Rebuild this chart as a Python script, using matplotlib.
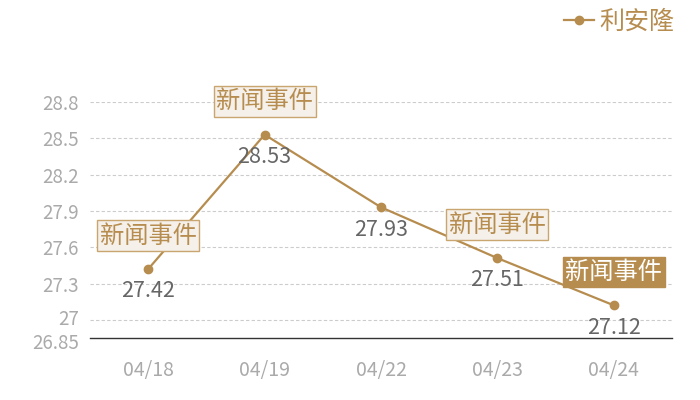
import matplotlib
matplotlib.use("Agg")
import matplotlib.pyplot as plt
import matplotlib.transforms as mtransforms

plt.rcParams['font.family'] = ['Noto Sans CJK SC', 'DejaVu Sans']

# 数据
dates = ['04/18', '04/19', '04/22', '04/23', '04/24']
prices = [27.42, 28.53, 27.93, 27.51, 27.12]
events = ['新闻事件', '新闻事件', None, '新闻事件', '新闻事件']
event_filled = [False, False, False, False, True]
y_ticks = [26.85, 27, 27.3, 27.6, 27.9, 28.2, 28.5, 28.8]
y_tick_labels = ['26.85', '27', '27.3', '27.6', '27.9', '28.2', '28.5', '28.8']
series_name = '利安隆'

gold = '#b68d4f'

fig = plt.figure(figsize=(7, 4), dpi=100)
ax = fig.add_axes([0.1286, 0.155, 0.8314, 0.59])

x = list(range(len(dates)))
ax.plot(x, prices, color=gold, lw=1.6, marker='o', ms=6, label=series_name,
        clip_on=False, zorder=3)

ax.set_xlim(-0.5, len(dates) - 0.5)
ax.set_ylim(26.85, 28.8)
ax.set_xticks(x)
ax.set_xticklabels(dates, color='#aaaaaa', fontsize=14)
ax.set_yticks(y_ticks)
ax.set_yticklabels(y_tick_labels, color='#aaaaaa', fontsize=13.5)
ax.tick_params(length=0, pad=8)
ax.tick_params(axis='x', pad=16)

# 26.85 和 27 挨得太近，稍微错开
lbls = ax.get_yticklabels()
lbls[0].set_transform(lbls[0].get_transform() +
                      mtransforms.ScaledTranslation(0, -2 / 72, fig.dpi_scale_trans))
lbls[1].set_transform(lbls[1].get_transform() +
                      mtransforms.ScaledTranslation(0, 2 / 72, fig.dpi_scale_trans))

for t in y_ticks[1:]:
    ax.axhline(t, color='#cccccc', lw=0.8, ls=(0, (3, 2)), zorder=1)

for s in ['top', 'right', 'left']:
    ax.spines[s].set_visible(False)
ax.spines['bottom'].set_color('#333333')
ax.spines['bottom'].set_linewidth(1)

# 数值标签
for xi, v in zip(x, prices):
    ax.annotate(f'{v:.2f}', (xi, v), xytext=(0, -16), textcoords='offset points',
                ha='center', va='center', fontsize=15.5, color='#666666', zorder=4)

# 事件标记
for xi, v, ev, filled in zip(x, prices, events, event_filled):
    if ev is None:
        continue
    if filled:
        box = dict(boxstyle='square,pad=0.1', fc=gold, ec=gold, lw=1)
        tc = 'white'
    else:
        box = dict(boxstyle='square,pad=0.1', fc='#f5f0ea', ec='#c9a56f', lw=1)
        tc = gold
    ax.annotate(ev, (xi, v), xytext=(0, 24), textcoords='offset points',
                ha='center', va='center', fontsize=17.5, color=tc, bbox=box,
                zorder=5, annotation_clip=False)

leg = fig.legend(loc='upper right', bbox_to_anchor=(0.995, 1.035), frameon=False,
                 fontsize=18, handlelength=1.2, handletextpad=0.2)
for t in leg.get_texts():
    t.set_color(gold)

fig.savefig('out.png', dpi=100)
